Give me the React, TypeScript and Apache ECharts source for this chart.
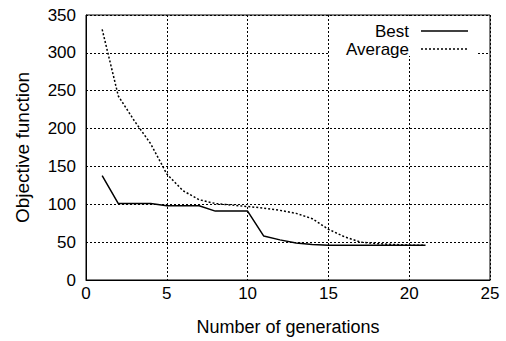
import React, { useEffect, useRef } from "react";
import * as echarts from "echarts";

const generations = [1, 2, 3, 4, 5, 6, 7, 8, 9, 10, 11, 12, 13, 14, 15, 16, 17, 18, 19, 20, 21];
const bestValues = [138, 101, 101, 101, 98, 98, 98, 91, 91, 91, 58, 53, 49, 47, 46, 46, 46, 46, 46, 46, 46];
const averageValues = [331, 243, 210, 180, 140, 118, 106, 101, 99, 97, 95, 92, 88, 81, 67, 57, 50, 48, 47, 46, 46];
const seriesNames = ["Best", "Average"];
const xAxisTitle = "Number of generations";
const yAxisTitle = "Objective function";

const FONT = "'Liberation Sans', Arial, sans-serif";

export default function App() {
  const ref = useRef<HTMLDivElement>(null);
  useEffect(() => {
    if (!ref.current) return;
    const chart = echarts.init(ref.current, null, { renderer: "svg" });
    const pairs = (ys: number[]) => generations.map((g, i) => [g, ys[i]]);
    chart.setOption({
      animation: false,
      backgroundColor: "#fff",
      textStyle: { fontFamily: FONT, color: "#000" },
      grid: {
        left: 86,
        top: 15,
        width: 404,
        height: 268,
        show: true,
        borderColor: "#000",
        borderWidth: 1,
        backgroundColor: "transparent",
      },
      xAxis: {
        type: "value",
        min: 0,
        max: 25,
        interval: 5,
        name: xAxisTitle,
        nameLocation: "middle",
        nameGap: 38,
        nameTextStyle: { fontFamily: FONT, fontSize: 18, color: "#000" },
        axisLine: { show: true, lineStyle: { color: "#000", width: 1 } },
        axisTick: { show: false },
        axisLabel: { fontFamily: FONT, fontSize: 17, color: "#000", margin: 5 },
        splitLine: { show: true, lineStyle: { color: "#000", type: [2, 2], width: 1 } },
      },
      yAxis: {
        type: "value",
        min: 0,
        max: 350,
        interval: 50,
        name: yAxisTitle,
        nameLocation: "middle",
        nameGap: 54,
        nameTextStyle: { fontFamily: FONT, fontSize: 19, color: "#000" },
        axisLine: { show: true, lineStyle: { color: "#000", width: 1 } },
        axisTick: { show: false },
        axisLabel: { fontFamily: FONT, fontSize: 17, color: "#000", margin: 10 },
        splitLine: { show: true, lineStyle: { color: "#000", type: [2, 2], width: 1 } },
      },
      series: [
        {
          name: seriesNames[0],
          type: "line",
          data: pairs(bestValues),
          showSymbol: false,
          symbol: "none",
          lineStyle: { color: "#000", width: 1.5, type: "solid" },
          z: 5,
        },
        {
          name: seriesNames[1],
          type: "line",
          data: pairs(averageValues),
          showSymbol: false,
          symbol: "none",
          lineStyle: { color: "#000", width: 1.5, type: [2, 2] },
          z: 4,
        },
      ],
      graphic: [
        { type: "rect", shape: { x: 330, y: 16, width: 148, height: 40 }, style: { fill: "#fff" }, z: 10 },
        {
          type: "text",
          x: 409,
          y: 31,
          style: { text: seriesNames[0], fontFamily: FONT, fontSize: 17, fill: "#000", align: "right", verticalAlign: "middle" },
          z: 11,
        },
        {
          type: "line",
          shape: { x1: 421, y1: 31, x2: 468, y2: 31 },
          style: { stroke: "#000", lineWidth: 1.5 },
          z: 11,
        },
        {
          type: "text",
          x: 409,
          y: 49,
          style: { text: seriesNames[1], fontFamily: FONT, fontSize: 17, fill: "#000", align: "right", verticalAlign: "middle" },
          z: 11,
        },
        {
          type: "line",
          shape: { x1: 421, y1: 49, x2: 468, y2: 49 },
          style: { stroke: "#000", lineWidth: 1.5, lineDash: [2, 2] },
          z: 11,
        },
      ],
    });
    return () => chart.dispose();
  }, []);
  return (
    <div
      ref={ref}
      style={{ position: "fixed", left: 0, top: 0, width: 506, height: 341, background: "#fff" }}
    />
  );
}
